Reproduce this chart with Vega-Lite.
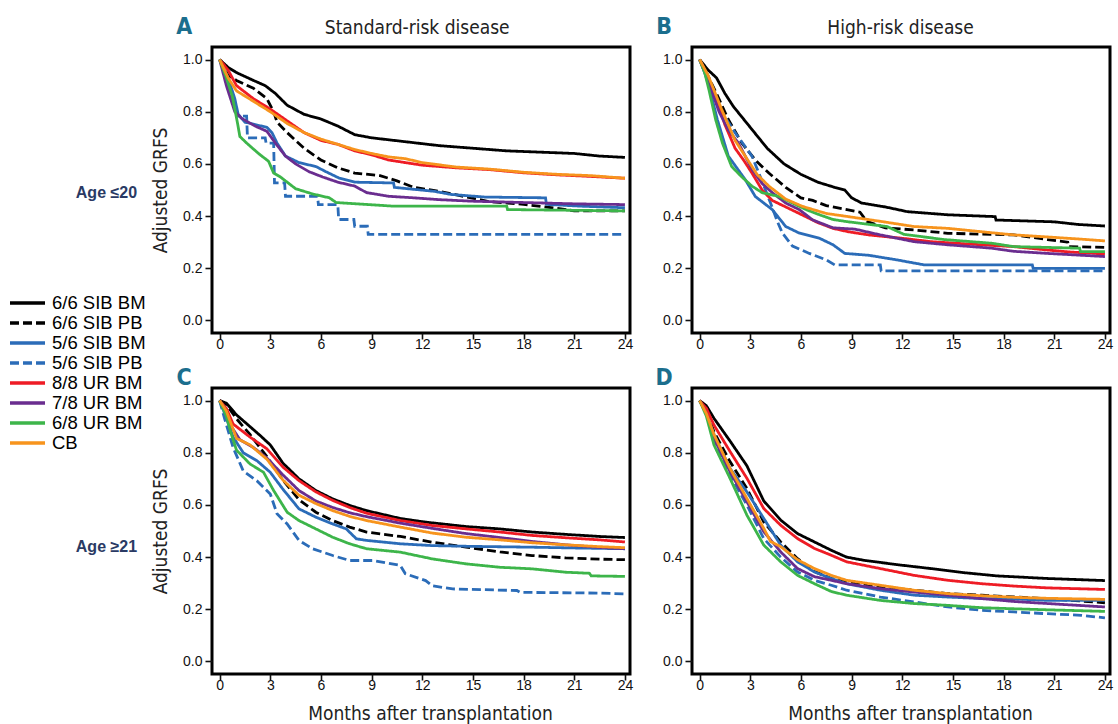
{
"$schema":"https://vega.github.io/schema/vega-lite/v6.json",
"background":"white",
"padding":{"left":8,"top":14,"right":2,"bottom":0},
"columns":2,
"bounds":"flush",
"spacing":{"row":55,"column":62},
"datasets":{
"panels":[{"panel":"A","letter":"A","age":"Age ≤20","header":"Standard-risk disease"},{"panel":"B","letter":"B","age":"","header":"High-risk disease"},{"panel":"C","letter":"C","age":"Age ≥21","header":""},{"panel":"D","letter":"D","age":"","header":""}],
"curves":[
{"panel":"A","group":"6/6 SIB BM","month":0,"grfs":1},{"panel":"A","group":"6/6 SIB BM","month":0.5,"grfs":0.97},{"panel":"A","group":"6/6 SIB BM","month":1,"grfs":0.95},{"panel":"A","group":"6/6 SIB BM","month":2,"grfs":0.92},{"panel":"A","group":"6/6 SIB BM","month":2.7,"grfs":0.9},{"panel":"A","group":"6/6 SIB BM","month":3.3,"grfs":0.87},{"panel":"A","group":"6/6 SIB BM","month":4,"grfs":0.825},{"panel":"A","group":"6/6 SIB BM","month":5,"grfs":0.79},{"panel":"A","group":"6/6 SIB BM","month":6,"grfs":0.772},{"panel":"A","group":"6/6 SIB BM","month":7,"grfs":0.745},{"panel":"A","group":"6/6 SIB BM","month":8,"grfs":0.712},{"panel":"A","group":"6/6 SIB BM","month":9,"grfs":0.7},{"panel":"A","group":"6/6 SIB BM","month":11,"grfs":0.685},{"panel":"A","group":"6/6 SIB BM","month":13,"grfs":0.67},{"panel":"A","group":"6/6 SIB BM","month":15,"grfs":0.66},{"panel":"A","group":"6/6 SIB BM","month":17,"grfs":0.65},{"panel":"A","group":"6/6 SIB BM","month":19,"grfs":0.645},{"panel":"A","group":"6/6 SIB BM","month":21,"grfs":0.64},{"panel":"A","group":"6/6 SIB BM","month":22.5,"grfs":0.63},{"panel":"A","group":"6/6 SIB BM","month":24,"grfs":0.625},
{"panel":"A","group":"6/6 SIB PB","month":0,"grfs":1},{"panel":"A","group":"6/6 SIB PB","month":0.5,"grfs":0.94},{"panel":"A","group":"6/6 SIB PB","month":1,"grfs":0.92},{"panel":"A","group":"6/6 SIB PB","month":2,"grfs":0.89},{"panel":"A","group":"6/6 SIB PB","month":2.8,"grfs":0.85},{"panel":"A","group":"6/6 SIB PB","month":3.2,"grfs":0.8},{"panel":"A","group":"6/6 SIB PB","month":3.4,"grfs":0.76},{"panel":"A","group":"6/6 SIB PB","month":4,"grfs":0.72},{"panel":"A","group":"6/6 SIB PB","month":5,"grfs":0.66},{"panel":"A","group":"6/6 SIB PB","month":6,"grfs":0.615},{"panel":"A","group":"6/6 SIB PB","month":7,"grfs":0.585},{"panel":"A","group":"6/6 SIB PB","month":8,"grfs":0.565},{"panel":"A","group":"6/6 SIB PB","month":9.5,"grfs":0.555},{"panel":"A","group":"6/6 SIB PB","month":10.5,"grfs":0.535},{"panel":"A","group":"6/6 SIB PB","month":11.5,"grfs":0.51},{"panel":"A","group":"6/6 SIB PB","month":13,"grfs":0.495},{"panel":"A","group":"6/6 SIB PB","month":14.5,"grfs":0.475},{"panel":"A","group":"6/6 SIB PB","month":16,"grfs":0.455},{"panel":"A","group":"6/6 SIB PB","month":18,"grfs":0.445},{"panel":"A","group":"6/6 SIB PB","month":20,"grfs":0.43},{"panel":"A","group":"6/6 SIB PB","month":21,"grfs":0.42},{"panel":"A","group":"6/6 SIB PB","month":24,"grfs":0.42},
{"panel":"A","group":"5/6 SIB BM","month":0,"grfs":1},{"panel":"A","group":"5/6 SIB BM","month":0.5,"grfs":0.93},{"panel":"A","group":"5/6 SIB BM","month":0.9,"grfs":0.85},{"panel":"A","group":"5/6 SIB BM","month":1.1,"grfs":0.79},{"panel":"A","group":"5/6 SIB BM","month":1.5,"grfs":0.76},{"panel":"A","group":"5/6 SIB BM","month":2.8,"grfs":0.74},{"panel":"A","group":"5/6 SIB BM","month":3.1,"grfs":0.72},{"panel":"A","group":"5/6 SIB BM","month":3.4,"grfs":0.68},{"panel":"A","group":"5/6 SIB BM","month":3.9,"grfs":0.63},{"panel":"A","group":"5/6 SIB BM","month":4.7,"grfs":0.605},{"panel":"A","group":"5/6 SIB BM","month":5.7,"grfs":0.59},{"panel":"A","group":"5/6 SIB BM","month":6.3,"grfs":0.57},{"panel":"A","group":"5/6 SIB BM","month":7.1,"grfs":0.545},{"panel":"A","group":"5/6 SIB BM","month":8,"grfs":0.53},{"panel":"A","group":"5/6 SIB BM","month":10.3,"grfs":0.527},{"panel":"A","group":"5/6 SIB BM","month":10.35,"grfs":0.51},{"panel":"A","group":"5/6 SIB BM","month":12.7,"grfs":0.495},{"panel":"A","group":"5/6 SIB BM","month":13.7,"grfs":0.483},{"panel":"A","group":"5/6 SIB BM","month":15.7,"grfs":0.473},{"panel":"A","group":"5/6 SIB BM","month":19.3,"grfs":0.47},{"panel":"A","group":"5/6 SIB BM","month":19.35,"grfs":0.445},{"panel":"A","group":"5/6 SIB BM","month":21.4,"grfs":0.438},{"panel":"A","group":"5/6 SIB BM","month":24,"grfs":0.432},
{"panel":"A","group":"5/6 SIB PB","month":0,"grfs":1},{"panel":"A","group":"5/6 SIB PB","month":0.3,"grfs":0.95},{"panel":"A","group":"5/6 SIB PB","month":0.6,"grfs":0.88},{"panel":"A","group":"5/6 SIB PB","month":1,"grfs":0.8},{"panel":"A","group":"5/6 SIB PB","month":1.05,"grfs":0.783},{"panel":"A","group":"5/6 SIB PB","month":1.6,"grfs":0.783},{"panel":"A","group":"5/6 SIB PB","month":1.65,"grfs":0.7},{"panel":"A","group":"5/6 SIB PB","month":2.7,"grfs":0.7},{"panel":"A","group":"5/6 SIB PB","month":2.75,"grfs":0.68},{"panel":"A","group":"5/6 SIB PB","month":3.2,"grfs":0.68},{"panel":"A","group":"5/6 SIB PB","month":3.25,"grfs":0.527},{"panel":"A","group":"5/6 SIB PB","month":3.85,"grfs":0.527},{"panel":"A","group":"5/6 SIB PB","month":3.9,"grfs":0.476},{"panel":"A","group":"5/6 SIB PB","month":5.8,"grfs":0.476},{"panel":"A","group":"5/6 SIB PB","month":5.85,"grfs":0.444},{"panel":"A","group":"5/6 SIB PB","month":7,"grfs":0.444},{"panel":"A","group":"5/6 SIB PB","month":7.05,"grfs":0.387},{"panel":"A","group":"5/6 SIB PB","month":7.95,"grfs":0.387},{"panel":"A","group":"5/6 SIB PB","month":8,"grfs":0.361},{"panel":"A","group":"5/6 SIB PB","month":8.75,"grfs":0.361},{"panel":"A","group":"5/6 SIB PB","month":8.8,"grfs":0.33},{"panel":"A","group":"5/6 SIB PB","month":24,"grfs":0.33},
{"panel":"A","group":"8/8 UR BM","month":0,"grfs":1},{"panel":"A","group":"8/8 UR BM","month":0.5,"grfs":0.96},{"panel":"A","group":"8/8 UR BM","month":1,"grfs":0.9},{"panel":"A","group":"8/8 UR BM","month":2,"grfs":0.85},{"panel":"A","group":"8/8 UR BM","month":3,"grfs":0.81},{"panel":"A","group":"8/8 UR BM","month":4,"grfs":0.765},{"panel":"A","group":"8/8 UR BM","month":5,"grfs":0.72},{"panel":"A","group":"8/8 UR BM","month":6,"grfs":0.69},{"panel":"A","group":"8/8 UR BM","month":7,"grfs":0.675},{"panel":"A","group":"8/8 UR BM","month":8,"grfs":0.65},{"panel":"A","group":"8/8 UR BM","month":9,"grfs":0.635},{"panel":"A","group":"8/8 UR BM","month":10,"grfs":0.615},{"panel":"A","group":"8/8 UR BM","month":11,"grfs":0.605},{"panel":"A","group":"8/8 UR BM","month":12,"grfs":0.595},{"panel":"A","group":"8/8 UR BM","month":14,"grfs":0.585},{"panel":"A","group":"8/8 UR BM","month":16,"grfs":0.578},{"panel":"A","group":"8/8 UR BM","month":18,"grfs":0.566},{"panel":"A","group":"8/8 UR BM","month":20,"grfs":0.558},{"panel":"A","group":"8/8 UR BM","month":22,"grfs":0.552},{"panel":"A","group":"8/8 UR BM","month":24,"grfs":0.545},
{"panel":"A","group":"7/8 UR BM","month":0,"grfs":1},{"panel":"A","group":"7/8 UR BM","month":0.4,"grfs":0.9},{"panel":"A","group":"7/8 UR BM","month":0.9,"grfs":0.8},{"panel":"A","group":"7/8 UR BM","month":1.3,"grfs":0.775},{"panel":"A","group":"7/8 UR BM","month":2.1,"grfs":0.745},{"panel":"A","group":"7/8 UR BM","month":2.8,"grfs":0.725},{"panel":"A","group":"7/8 UR BM","month":3.3,"grfs":0.68},{"panel":"A","group":"7/8 UR BM","month":3.9,"grfs":0.63},{"panel":"A","group":"7/8 UR BM","month":4.5,"grfs":0.6},{"panel":"A","group":"7/8 UR BM","month":5.3,"grfs":0.57},{"panel":"A","group":"7/8 UR BM","month":6.1,"grfs":0.55},{"panel":"A","group":"7/8 UR BM","month":7,"grfs":0.53},{"panel":"A","group":"7/8 UR BM","month":8,"grfs":0.515},{"panel":"A","group":"7/8 UR BM","month":8.7,"grfs":0.49},{"panel":"A","group":"7/8 UR BM","month":10,"grfs":0.476},{"panel":"A","group":"7/8 UR BM","month":11.5,"grfs":0.47},{"panel":"A","group":"7/8 UR BM","month":13,"grfs":0.463},{"panel":"A","group":"7/8 UR BM","month":15,"grfs":0.457},{"panel":"A","group":"7/8 UR BM","month":18,"grfs":0.452},{"panel":"A","group":"7/8 UR BM","month":21,"grfs":0.447},{"panel":"A","group":"7/8 UR BM","month":24,"grfs":0.444},
{"panel":"A","group":"6/8 UR BM","month":0,"grfs":1},{"panel":"A","group":"6/8 UR BM","month":0.4,"grfs":0.93},{"panel":"A","group":"6/8 UR BM","month":0.75,"grfs":0.86},{"panel":"A","group":"6/8 UR BM","month":1.05,"grfs":0.76},{"panel":"A","group":"6/8 UR BM","month":1.2,"grfs":0.705},{"panel":"A","group":"6/8 UR BM","month":1.6,"grfs":0.68},{"panel":"A","group":"6/8 UR BM","month":2.3,"grfs":0.64},{"panel":"A","group":"6/8 UR BM","month":2.9,"grfs":0.61},{"panel":"A","group":"6/8 UR BM","month":3.2,"grfs":0.565},{"panel":"A","group":"6/8 UR BM","month":3.6,"grfs":0.55},{"panel":"A","group":"6/8 UR BM","month":4.5,"grfs":0.505},{"panel":"A","group":"6/8 UR BM","month":5.5,"grfs":0.485},{"panel":"A","group":"6/8 UR BM","month":6.5,"grfs":0.47},{"panel":"A","group":"6/8 UR BM","month":6.9,"grfs":0.452},{"panel":"A","group":"6/8 UR BM","month":10.3,"grfs":0.438},{"panel":"A","group":"6/8 UR BM","month":17,"grfs":0.438},{"panel":"A","group":"6/8 UR BM","month":17.05,"grfs":0.425},{"panel":"A","group":"6/8 UR BM","month":24,"grfs":0.42},
{"panel":"A","group":"CB","month":0,"grfs":1},{"panel":"A","group":"CB","month":0.5,"grfs":0.93},{"panel":"A","group":"CB","month":1,"grfs":0.88},{"panel":"A","group":"CB","month":2,"grfs":0.84},{"panel":"A","group":"CB","month":3,"grfs":0.8},{"panel":"A","group":"CB","month":4,"grfs":0.755},{"panel":"A","group":"CB","month":5,"grfs":0.72},{"panel":"A","group":"CB","month":6,"grfs":0.695},{"panel":"A","group":"CB","month":7,"grfs":0.675},{"panel":"A","group":"CB","month":8,"grfs":0.655},{"panel":"A","group":"CB","month":9,"grfs":0.64},{"panel":"A","group":"CB","month":10,"grfs":0.627},{"panel":"A","group":"CB","month":11,"grfs":0.62},{"panel":"A","group":"CB","month":12,"grfs":0.605},{"panel":"A","group":"CB","month":14,"grfs":0.588},{"panel":"A","group":"CB","month":16,"grfs":0.58},{"panel":"A","group":"CB","month":18,"grfs":0.568},{"panel":"A","group":"CB","month":20,"grfs":0.56},{"panel":"A","group":"CB","month":22,"grfs":0.555},{"panel":"A","group":"CB","month":24,"grfs":0.545},
{"panel":"B","group":"6/6 SIB BM","month":0,"grfs":1},{"panel":"B","group":"6/6 SIB BM","month":0.5,"grfs":0.96},{"panel":"B","group":"6/6 SIB BM","month":1,"grfs":0.93},{"panel":"B","group":"6/6 SIB BM","month":1.5,"grfs":0.87},{"panel":"B","group":"6/6 SIB BM","month":2,"grfs":0.82},{"panel":"B","group":"6/6 SIB BM","month":3,"grfs":0.74},{"panel":"B","group":"6/6 SIB BM","month":4,"grfs":0.66},{"panel":"B","group":"6/6 SIB BM","month":5,"grfs":0.6},{"panel":"B","group":"6/6 SIB BM","month":6,"grfs":0.56},{"panel":"B","group":"6/6 SIB BM","month":7,"grfs":0.53},{"panel":"B","group":"6/6 SIB BM","month":8,"grfs":0.51},{"panel":"B","group":"6/6 SIB BM","month":8.6,"grfs":0.5},{"panel":"B","group":"6/6 SIB BM","month":9,"grfs":0.47},{"panel":"B","group":"6/6 SIB BM","month":9.6,"grfs":0.45},{"panel":"B","group":"6/6 SIB BM","month":11,"grfs":0.435},{"panel":"B","group":"6/6 SIB BM","month":12.3,"grfs":0.417},{"panel":"B","group":"6/6 SIB BM","month":14.7,"grfs":0.405},{"panel":"B","group":"6/6 SIB BM","month":17.5,"grfs":0.398},{"panel":"B","group":"6/6 SIB BM","month":17.55,"grfs":0.385},{"panel":"B","group":"6/6 SIB BM","month":21,"grfs":0.378},{"panel":"B","group":"6/6 SIB BM","month":22.4,"grfs":0.368},{"panel":"B","group":"6/6 SIB BM","month":24,"grfs":0.362},
{"panel":"B","group":"6/6 SIB PB","month":0,"grfs":1},{"panel":"B","group":"6/6 SIB PB","month":0.4,"grfs":0.95},{"panel":"B","group":"6/6 SIB PB","month":1,"grfs":0.87},{"panel":"B","group":"6/6 SIB PB","month":1.7,"grfs":0.77},{"panel":"B","group":"6/6 SIB PB","month":2.5,"grfs":0.68},{"panel":"B","group":"6/6 SIB PB","month":3.3,"grfs":0.615},{"panel":"B","group":"6/6 SIB PB","month":4.1,"grfs":0.565},{"panel":"B","group":"6/6 SIB PB","month":5.1,"grfs":0.51},{"panel":"B","group":"6/6 SIB PB","month":6,"grfs":0.47},{"panel":"B","group":"6/6 SIB PB","month":6.7,"grfs":0.46},{"panel":"B","group":"6/6 SIB PB","month":7.5,"grfs":0.44},{"panel":"B","group":"6/6 SIB PB","month":9.5,"grfs":0.415},{"panel":"B","group":"6/6 SIB PB","month":9.9,"grfs":0.38},{"panel":"B","group":"6/6 SIB PB","month":11,"grfs":0.355},{"panel":"B","group":"6/6 SIB PB","month":12.7,"grfs":0.347},{"panel":"B","group":"6/6 SIB PB","month":14.7,"grfs":0.334},{"panel":"B","group":"6/6 SIB PB","month":18.6,"grfs":0.328},{"panel":"B","group":"6/6 SIB PB","month":20.6,"grfs":0.31},{"panel":"B","group":"6/6 SIB PB","month":21.8,"grfs":0.3},{"panel":"B","group":"6/6 SIB PB","month":21.85,"grfs":0.283},{"panel":"B","group":"6/6 SIB PB","month":24,"grfs":0.28},
{"panel":"B","group":"5/6 SIB BM","month":0,"grfs":1},{"panel":"B","group":"5/6 SIB BM","month":0.3,"grfs":0.95},{"panel":"B","group":"5/6 SIB BM","month":0.55,"grfs":0.9},{"panel":"B","group":"5/6 SIB BM","month":1.05,"grfs":0.77},{"panel":"B","group":"5/6 SIB BM","month":1.7,"grfs":0.63},{"panel":"B","group":"5/6 SIB BM","month":2.7,"grfs":0.54},{"panel":"B","group":"5/6 SIB BM","month":3.3,"grfs":0.475},{"panel":"B","group":"5/6 SIB BM","month":4.3,"grfs":0.425},{"panel":"B","group":"5/6 SIB BM","month":5.1,"grfs":0.36},{"panel":"B","group":"5/6 SIB BM","month":5.9,"grfs":0.335},{"panel":"B","group":"5/6 SIB BM","month":7.1,"grfs":0.315},{"panel":"B","group":"5/6 SIB BM","month":7.9,"grfs":0.29},{"panel":"B","group":"5/6 SIB BM","month":8.6,"grfs":0.257},{"panel":"B","group":"5/6 SIB BM","month":10,"grfs":0.25},{"panel":"B","group":"5/6 SIB BM","month":11.7,"grfs":0.232},{"panel":"B","group":"5/6 SIB BM","month":13.3,"grfs":0.213},{"panel":"B","group":"5/6 SIB BM","month":19.7,"grfs":0.213},{"panel":"B","group":"5/6 SIB BM","month":19.75,"grfs":0.2},{"panel":"B","group":"5/6 SIB BM","month":24,"grfs":0.2},
{"panel":"B","group":"5/6 SIB PB","month":0,"grfs":1},{"panel":"B","group":"5/6 SIB PB","month":0.5,"grfs":0.93},{"panel":"B","group":"5/6 SIB PB","month":1.3,"grfs":0.8},{"panel":"B","group":"5/6 SIB PB","month":2.1,"grfs":0.72},{"panel":"B","group":"5/6 SIB PB","month":3.1,"grfs":0.63},{"panel":"B","group":"5/6 SIB PB","month":3.6,"grfs":0.55},{"panel":"B","group":"5/6 SIB PB","month":4.2,"grfs":0.45},{"panel":"B","group":"5/6 SIB PB","month":4.6,"grfs":0.38},{"panel":"B","group":"5/6 SIB PB","month":4.9,"grfs":0.335},{"panel":"B","group":"5/6 SIB PB","month":5.5,"grfs":0.285},{"panel":"B","group":"5/6 SIB PB","month":6.5,"grfs":0.257},{"panel":"B","group":"5/6 SIB PB","month":7.5,"grfs":0.232},{"panel":"B","group":"5/6 SIB PB","month":8,"grfs":0.213},{"panel":"B","group":"5/6 SIB PB","month":10.7,"grfs":0.213},{"panel":"B","group":"5/6 SIB PB","month":10.75,"grfs":0.19},{"panel":"B","group":"5/6 SIB PB","month":24,"grfs":0.19},
{"panel":"B","group":"8/8 UR BM","month":0,"grfs":1},{"panel":"B","group":"8/8 UR BM","month":0.5,"grfs":0.93},{"panel":"B","group":"8/8 UR BM","month":1,"grfs":0.85},{"panel":"B","group":"8/8 UR BM","month":1.5,"grfs":0.75},{"panel":"B","group":"8/8 UR BM","month":2.1,"grfs":0.66},{"panel":"B","group":"8/8 UR BM","month":2.6,"grfs":0.615},{"panel":"B","group":"8/8 UR BM","month":3.1,"grfs":0.565},{"panel":"B","group":"8/8 UR BM","month":3.7,"grfs":0.5},{"panel":"B","group":"8/8 UR BM","month":4.3,"grfs":0.46},{"panel":"B","group":"8/8 UR BM","month":5.1,"grfs":0.435},{"panel":"B","group":"8/8 UR BM","month":5.9,"grfs":0.41},{"panel":"B","group":"8/8 UR BM","month":7,"grfs":0.375},{"panel":"B","group":"8/8 UR BM","month":7.9,"grfs":0.353},{"panel":"B","group":"8/8 UR BM","month":8.8,"grfs":0.34},{"panel":"B","group":"8/8 UR BM","month":10,"grfs":0.328},{"panel":"B","group":"8/8 UR BM","month":12,"grfs":0.315},{"panel":"B","group":"8/8 UR BM","month":13.7,"grfs":0.302},{"panel":"B","group":"8/8 UR BM","month":16.7,"grfs":0.29},{"panel":"B","group":"8/8 UR BM","month":18.6,"grfs":0.283},{"panel":"B","group":"8/8 UR BM","month":20.6,"grfs":0.27},{"panel":"B","group":"8/8 UR BM","month":22,"grfs":0.262},{"panel":"B","group":"8/8 UR BM","month":24,"grfs":0.255},
{"panel":"B","group":"7/8 UR BM","month":0,"grfs":1},{"panel":"B","group":"7/8 UR BM","month":0.5,"grfs":0.92},{"panel":"B","group":"7/8 UR BM","month":1.15,"grfs":0.8},{"panel":"B","group":"7/8 UR BM","month":1.7,"grfs":0.73},{"panel":"B","group":"7/8 UR BM","month":2.3,"grfs":0.68},{"panel":"B","group":"7/8 UR BM","month":3.1,"grfs":0.58},{"panel":"B","group":"7/8 UR BM","month":3.7,"grfs":0.525},{"panel":"B","group":"7/8 UR BM","month":4.3,"grfs":0.49},{"panel":"B","group":"7/8 UR BM","month":5.1,"grfs":0.45},{"panel":"B","group":"7/8 UR BM","month":5.9,"grfs":0.425},{"panel":"B","group":"7/8 UR BM","month":6.7,"grfs":0.385},{"panel":"B","group":"7/8 UR BM","month":7.9,"grfs":0.355},{"panel":"B","group":"7/8 UR BM","month":9.2,"grfs":0.35},{"panel":"B","group":"7/8 UR BM","month":10.7,"grfs":0.328},{"panel":"B","group":"7/8 UR BM","month":12.7,"grfs":0.302},{"panel":"B","group":"7/8 UR BM","month":14.7,"grfs":0.29},{"panel":"B","group":"7/8 UR BM","month":17.3,"grfs":0.277},{"panel":"B","group":"7/8 UR BM","month":18.6,"grfs":0.265},{"panel":"B","group":"7/8 UR BM","month":20.6,"grfs":0.257},{"panel":"B","group":"7/8 UR BM","month":24,"grfs":0.245},
{"panel":"B","group":"6/8 UR BM","month":0,"grfs":1},{"panel":"B","group":"6/8 UR BM","month":0.3,"grfs":0.95},{"panel":"B","group":"6/8 UR BM","month":0.55,"grfs":0.885},{"panel":"B","group":"6/8 UR BM","month":0.95,"grfs":0.77},{"panel":"B","group":"6/8 UR BM","month":1.35,"grfs":0.68},{"panel":"B","group":"6/8 UR BM","month":1.9,"grfs":0.59},{"panel":"B","group":"6/8 UR BM","month":2.5,"grfs":0.55},{"panel":"B","group":"6/8 UR BM","month":3.1,"grfs":0.515},{"panel":"B","group":"6/8 UR BM","month":3.7,"grfs":0.49},{"panel":"B","group":"6/8 UR BM","month":4.7,"grfs":0.475},{"panel":"B","group":"6/8 UR BM","month":5.5,"grfs":0.45},{"panel":"B","group":"6/8 UR BM","month":6.3,"grfs":0.425},{"panel":"B","group":"6/8 UR BM","month":7.1,"grfs":0.405},{"panel":"B","group":"6/8 UR BM","month":7.9,"grfs":0.387},{"panel":"B","group":"6/8 UR BM","month":8.8,"grfs":0.378},{"panel":"B","group":"6/8 UR BM","month":11.1,"grfs":0.36},{"panel":"B","group":"6/8 UR BM","month":12.1,"grfs":0.33},{"panel":"B","group":"6/8 UR BM","month":14.5,"grfs":0.31},{"panel":"B","group":"6/8 UR BM","month":17.3,"grfs":0.296},{"panel":"B","group":"6/8 UR BM","month":18.6,"grfs":0.283},{"panel":"B","group":"6/8 UR BM","month":22.5,"grfs":0.277},{"panel":"B","group":"6/8 UR BM","month":22.55,"grfs":0.264},{"panel":"B","group":"6/8 UR BM","month":24,"grfs":0.264},
{"panel":"B","group":"CB","month":0,"grfs":1},{"panel":"B","group":"CB","month":0.5,"grfs":0.94},{"panel":"B","group":"CB","month":1.3,"grfs":0.81},{"panel":"B","group":"CB","month":2.1,"grfs":0.69},{"panel":"B","group":"CB","month":2.8,"grfs":0.62},{"panel":"B","group":"CB","month":3.4,"grfs":0.56},{"panel":"B","group":"CB","month":4.1,"grfs":0.515},{"panel":"B","group":"CB","month":5.1,"grfs":0.465},{"panel":"B","group":"CB","month":6.1,"grfs":0.437},{"panel":"B","group":"CB","month":7.5,"grfs":0.41},{"panel":"B","group":"CB","month":8.8,"grfs":0.398},{"panel":"B","group":"CB","month":10.7,"grfs":0.38},{"panel":"B","group":"CB","month":12.7,"grfs":0.36},{"panel":"B","group":"CB","month":14.7,"grfs":0.353},{"panel":"B","group":"CB","month":16.7,"grfs":0.34},{"panel":"B","group":"CB","month":18.6,"grfs":0.328},{"panel":"B","group":"CB","month":20.6,"grfs":0.32},{"panel":"B","group":"CB","month":22.5,"grfs":0.312},{"panel":"B","group":"CB","month":24,"grfs":0.305},
{"panel":"C","group":"6/6 SIB BM","month":0,"grfs":1},{"panel":"C","group":"6/6 SIB BM","month":0.4,"grfs":0.99},{"panel":"C","group":"6/6 SIB BM","month":1,"grfs":0.945},{"panel":"C","group":"6/6 SIB BM","month":1.8,"grfs":0.9},{"panel":"C","group":"6/6 SIB BM","month":2.4,"grfs":0.866},{"panel":"C","group":"6/6 SIB BM","month":3,"grfs":0.83},{"panel":"C","group":"6/6 SIB BM","month":3.75,"grfs":0.76},{"panel":"C","group":"6/6 SIB BM","month":4.7,"grfs":0.7},{"panel":"C","group":"6/6 SIB BM","month":5.7,"grfs":0.655},{"panel":"C","group":"6/6 SIB BM","month":6.7,"grfs":0.623},{"panel":"C","group":"6/6 SIB BM","month":7.7,"grfs":0.598},{"panel":"C","group":"6/6 SIB BM","month":8.7,"grfs":0.578},{"panel":"C","group":"6/6 SIB BM","month":9.7,"grfs":0.563},{"panel":"C","group":"6/6 SIB BM","month":10.7,"grfs":0.548},{"panel":"C","group":"6/6 SIB BM","month":12.2,"grfs":0.534},{"panel":"C","group":"6/6 SIB BM","month":14.6,"grfs":0.517},{"panel":"C","group":"6/6 SIB BM","month":16.6,"grfs":0.508},{"panel":"C","group":"6/6 SIB BM","month":18.5,"grfs":0.496},{"panel":"C","group":"6/6 SIB BM","month":20.5,"grfs":0.487},{"panel":"C","group":"6/6 SIB BM","month":22.5,"grfs":0.479},{"panel":"C","group":"6/6 SIB BM","month":24,"grfs":0.475},
{"panel":"C","group":"6/6 SIB PB","month":0,"grfs":1},{"panel":"C","group":"6/6 SIB PB","month":0.4,"grfs":0.985},{"panel":"C","group":"6/6 SIB PB","month":1,"grfs":0.93},{"panel":"C","group":"6/6 SIB PB","month":1.8,"grfs":0.87},{"panel":"C","group":"6/6 SIB PB","month":2.8,"grfs":0.785},{"panel":"C","group":"6/6 SIB PB","month":3.75,"grfs":0.695},{"panel":"C","group":"6/6 SIB PB","month":4.7,"grfs":0.62},{"panel":"C","group":"6/6 SIB PB","month":5.7,"grfs":0.572},{"panel":"C","group":"6/6 SIB PB","month":6.7,"grfs":0.54},{"panel":"C","group":"6/6 SIB PB","month":7.7,"grfs":0.515},{"panel":"C","group":"6/6 SIB PB","month":8.7,"grfs":0.496},{"panel":"C","group":"6/6 SIB PB","month":10.7,"grfs":0.479},{"panel":"C","group":"6/6 SIB PB","month":12.6,"grfs":0.457},{"panel":"C","group":"6/6 SIB PB","month":14.6,"grfs":0.438},{"panel":"C","group":"6/6 SIB PB","month":16.6,"grfs":0.42},{"panel":"C","group":"6/6 SIB PB","month":18.5,"grfs":0.406},{"panel":"C","group":"6/6 SIB PB","month":20.5,"grfs":0.397},{"panel":"C","group":"6/6 SIB PB","month":22.5,"grfs":0.392},{"panel":"C","group":"6/6 SIB PB","month":24,"grfs":0.39},
{"panel":"C","group":"5/6 SIB BM","month":0,"grfs":1},{"panel":"C","group":"5/6 SIB BM","month":0.3,"grfs":0.95},{"panel":"C","group":"5/6 SIB BM","month":0.8,"grfs":0.86},{"panel":"C","group":"5/6 SIB BM","month":1.4,"grfs":0.8},{"panel":"C","group":"5/6 SIB BM","month":2.2,"grfs":0.77},{"panel":"C","group":"5/6 SIB BM","month":3,"grfs":0.725},{"panel":"C","group":"5/6 SIB BM","month":3.75,"grfs":0.66},{"panel":"C","group":"5/6 SIB BM","month":4.7,"grfs":0.585},{"panel":"C","group":"5/6 SIB BM","month":5.7,"grfs":0.553},{"panel":"C","group":"5/6 SIB BM","month":6.7,"grfs":0.527},{"panel":"C","group":"5/6 SIB BM","month":7.5,"grfs":0.508},{"panel":"C","group":"5/6 SIB BM","month":8.1,"grfs":0.47},{"panel":"C","group":"5/6 SIB BM","month":8.7,"grfs":0.464},{"panel":"C","group":"5/6 SIB BM","month":10.7,"grfs":0.451},{"panel":"C","group":"5/6 SIB BM","month":12.6,"grfs":0.444},{"panel":"C","group":"5/6 SIB BM","month":15,"grfs":0.441},{"panel":"C","group":"5/6 SIB BM","month":18.5,"grfs":0.438},{"panel":"C","group":"5/6 SIB BM","month":21,"grfs":0.435},{"panel":"C","group":"5/6 SIB BM","month":24,"grfs":0.432},
{"panel":"C","group":"5/6 SIB PB","month":0,"grfs":1},{"panel":"C","group":"5/6 SIB PB","month":0.3,"grfs":0.93},{"panel":"C","group":"5/6 SIB PB","month":0.8,"grfs":0.82},{"panel":"C","group":"5/6 SIB PB","month":1.4,"grfs":0.73},{"panel":"C","group":"5/6 SIB PB","month":2.2,"grfs":0.693},{"panel":"C","group":"5/6 SIB PB","month":3,"grfs":0.642},{"panel":"C","group":"5/6 SIB PB","month":3.4,"grfs":0.566},{"panel":"C","group":"5/6 SIB PB","month":4,"grfs":0.527},{"panel":"C","group":"5/6 SIB PB","month":4.7,"grfs":0.464},{"panel":"C","group":"5/6 SIB PB","month":5.5,"grfs":0.432},{"panel":"C","group":"5/6 SIB PB","month":6.7,"grfs":0.406},{"panel":"C","group":"5/6 SIB PB","month":7.7,"grfs":0.387},{"panel":"C","group":"5/6 SIB PB","month":9.1,"grfs":0.387},{"panel":"C","group":"5/6 SIB PB","month":10.7,"grfs":0.368},{"panel":"C","group":"5/6 SIB PB","month":11,"grfs":0.336},{"panel":"C","group":"5/6 SIB PB","month":12.2,"grfs":0.31},{"panel":"C","group":"5/6 SIB PB","month":12.6,"grfs":0.29},{"panel":"C","group":"5/6 SIB PB","month":13.8,"grfs":0.278},{"panel":"C","group":"5/6 SIB PB","month":17.6,"grfs":0.272},{"panel":"C","group":"5/6 SIB PB","month":17.8,"grfs":0.265},{"panel":"C","group":"5/6 SIB PB","month":22.5,"grfs":0.262},{"panel":"C","group":"5/6 SIB PB","month":24,"grfs":0.259},
{"panel":"C","group":"8/8 UR BM","month":0,"grfs":1},{"panel":"C","group":"8/8 UR BM","month":0.4,"grfs":0.97},{"panel":"C","group":"8/8 UR BM","month":0.8,"grfs":0.91},{"panel":"C","group":"8/8 UR BM","month":1.8,"grfs":0.86},{"panel":"C","group":"8/8 UR BM","month":2.8,"grfs":0.815},{"panel":"C","group":"8/8 UR BM","month":3.75,"grfs":0.745},{"panel":"C","group":"8/8 UR BM","month":4.7,"grfs":0.693},{"panel":"C","group":"8/8 UR BM","month":5.7,"grfs":0.65},{"panel":"C","group":"8/8 UR BM","month":6.7,"grfs":0.617},{"panel":"C","group":"8/8 UR BM","month":7.7,"grfs":0.59},{"panel":"C","group":"8/8 UR BM","month":8.7,"grfs":0.568},{"panel":"C","group":"8/8 UR BM","month":10.7,"grfs":0.54},{"panel":"C","group":"8/8 UR BM","month":12.6,"grfs":0.521},{"panel":"C","group":"8/8 UR BM","month":14.6,"grfs":0.508},{"panel":"C","group":"8/8 UR BM","month":16.6,"grfs":0.496},{"panel":"C","group":"8/8 UR BM","month":18.5,"grfs":0.483},{"panel":"C","group":"8/8 UR BM","month":20.5,"grfs":0.474},{"panel":"C","group":"8/8 UR BM","month":22.5,"grfs":0.466},{"panel":"C","group":"8/8 UR BM","month":24,"grfs":0.458},
{"panel":"C","group":"7/8 UR BM","month":0,"grfs":1},{"panel":"C","group":"7/8 UR BM","month":0.3,"grfs":0.97},{"panel":"C","group":"7/8 UR BM","month":0.7,"grfs":0.9},{"panel":"C","group":"7/8 UR BM","month":1.2,"grfs":0.85},{"panel":"C","group":"7/8 UR BM","month":2,"grfs":0.82},{"panel":"C","group":"7/8 UR BM","month":2.8,"grfs":0.78},{"panel":"C","group":"7/8 UR BM","month":3.75,"grfs":0.715},{"panel":"C","group":"7/8 UR BM","month":4.7,"grfs":0.655},{"panel":"C","group":"7/8 UR BM","month":5.7,"grfs":0.615},{"panel":"C","group":"7/8 UR BM","month":6.7,"grfs":0.59},{"panel":"C","group":"7/8 UR BM","month":7.7,"grfs":0.57},{"panel":"C","group":"7/8 UR BM","month":8.7,"grfs":0.555},{"panel":"C","group":"7/8 UR BM","month":10.7,"grfs":0.53},{"panel":"C","group":"7/8 UR BM","month":12.6,"grfs":0.51},{"panel":"C","group":"7/8 UR BM","month":14.6,"grfs":0.49},{"panel":"C","group":"7/8 UR BM","month":16.6,"grfs":0.475},{"panel":"C","group":"7/8 UR BM","month":18.5,"grfs":0.46},{"panel":"C","group":"7/8 UR BM","month":20.5,"grfs":0.447},{"panel":"C","group":"7/8 UR BM","month":22.5,"grfs":0.437},{"panel":"C","group":"7/8 UR BM","month":24,"grfs":0.432},
{"panel":"C","group":"6/8 UR BM","month":0,"grfs":1},{"panel":"C","group":"6/8 UR BM","month":0.4,"grfs":0.94},{"panel":"C","group":"6/8 UR BM","month":0.7,"grfs":0.87},{"panel":"C","group":"6/8 UR BM","month":1,"grfs":0.81},{"panel":"C","group":"6/8 UR BM","month":1.8,"grfs":0.757},{"panel":"C","group":"6/8 UR BM","month":2.6,"grfs":0.725},{"panel":"C","group":"6/8 UR BM","month":3.2,"grfs":0.655},{"panel":"C","group":"6/8 UR BM","month":4,"grfs":0.572},{"panel":"C","group":"6/8 UR BM","month":4.7,"grfs":0.54},{"panel":"C","group":"6/8 UR BM","month":5.7,"grfs":0.508},{"panel":"C","group":"6/8 UR BM","month":6.7,"grfs":0.476},{"panel":"C","group":"6/8 UR BM","month":7.7,"grfs":0.451},{"panel":"C","group":"6/8 UR BM","month":8.7,"grfs":0.432},{"panel":"C","group":"6/8 UR BM","month":10.7,"grfs":0.419},{"panel":"C","group":"6/8 UR BM","month":12.6,"grfs":0.393},{"panel":"C","group":"6/8 UR BM","month":14.6,"grfs":0.374},{"panel":"C","group":"6/8 UR BM","month":16.6,"grfs":0.361},{"panel":"C","group":"6/8 UR BM","month":18.5,"grfs":0.355},{"panel":"C","group":"6/8 UR BM","month":20.5,"grfs":0.342},{"panel":"C","group":"6/8 UR BM","month":21.9,"grfs":0.338},{"panel":"C","group":"6/8 UR BM","month":22,"grfs":0.328},{"panel":"C","group":"6/8 UR BM","month":24,"grfs":0.326},
{"panel":"C","group":"CB","month":0,"grfs":1},{"panel":"C","group":"CB","month":0.4,"grfs":0.96},{"panel":"C","group":"CB","month":1,"grfs":0.855},{"panel":"C","group":"CB","month":1.8,"grfs":0.83},{"panel":"C","group":"CB","month":2.8,"grfs":0.775},{"panel":"C","group":"CB","month":3.75,"grfs":0.695},{"panel":"C","group":"CB","month":4.7,"grfs":0.637},{"panel":"C","group":"CB","month":5.7,"grfs":0.605},{"panel":"C","group":"CB","month":6.7,"grfs":0.578},{"panel":"C","group":"CB","month":7.7,"grfs":0.556},{"panel":"C","group":"CB","month":8.7,"grfs":0.54},{"panel":"C","group":"CB","month":10.7,"grfs":0.515},{"panel":"C","group":"CB","month":12.6,"grfs":0.492},{"panel":"C","group":"CB","month":14.6,"grfs":0.476},{"panel":"C","group":"CB","month":16.6,"grfs":0.466},{"panel":"C","group":"CB","month":18.5,"grfs":0.455},{"panel":"C","group":"CB","month":20.5,"grfs":0.447},{"panel":"C","group":"CB","month":22.5,"grfs":0.44},{"panel":"C","group":"CB","month":24,"grfs":0.436},
{"panel":"D","group":"6/6 SIB BM","month":0,"grfs":1},{"panel":"D","group":"6/6 SIB BM","month":0.4,"grfs":0.98},{"panel":"D","group":"6/6 SIB BM","month":0.85,"grfs":0.932},{"panel":"D","group":"6/6 SIB BM","month":1.8,"grfs":0.845},{"panel":"D","group":"6/6 SIB BM","month":2.8,"grfs":0.75},{"panel":"D","group":"6/6 SIB BM","month":3.8,"grfs":0.615},{"panel":"D","group":"6/6 SIB BM","month":4.8,"grfs":0.542},{"panel":"D","group":"6/6 SIB BM","month":5.8,"grfs":0.49},{"panel":"D","group":"6/6 SIB BM","month":6.8,"grfs":0.458},{"panel":"D","group":"6/6 SIB BM","month":7.8,"grfs":0.426},{"panel":"D","group":"6/6 SIB BM","month":8.7,"grfs":0.4},{"panel":"D","group":"6/6 SIB BM","month":9.7,"grfs":0.388},{"panel":"D","group":"6/6 SIB BM","month":11.7,"grfs":0.371},{"panel":"D","group":"6/6 SIB BM","month":13.7,"grfs":0.356},{"panel":"D","group":"6/6 SIB BM","month":15.7,"grfs":0.34},{"panel":"D","group":"6/6 SIB BM","month":17.6,"grfs":0.328},{"panel":"D","group":"6/6 SIB BM","month":20.6,"grfs":0.318},{"panel":"D","group":"6/6 SIB BM","month":24,"grfs":0.31},
{"panel":"D","group":"6/6 SIB PB","month":0,"grfs":1},{"panel":"D","group":"6/6 SIB PB","month":0.4,"grfs":0.96},{"panel":"D","group":"6/6 SIB PB","month":0.85,"grfs":0.88},{"panel":"D","group":"6/6 SIB PB","month":1.8,"grfs":0.766},{"panel":"D","group":"6/6 SIB PB","month":2.8,"grfs":0.663},{"panel":"D","group":"6/6 SIB PB","month":3.8,"grfs":0.535},{"panel":"D","group":"6/6 SIB PB","month":4.8,"grfs":0.458},{"panel":"D","group":"6/6 SIB PB","month":5.8,"grfs":0.394},{"panel":"D","group":"6/6 SIB PB","month":6.8,"grfs":0.345},{"panel":"D","group":"6/6 SIB PB","month":7.8,"grfs":0.318},{"panel":"D","group":"6/6 SIB PB","month":8.7,"grfs":0.305},{"panel":"D","group":"6/6 SIB PB","month":10.7,"grfs":0.286},{"panel":"D","group":"6/6 SIB PB","month":12.7,"grfs":0.273},{"panel":"D","group":"6/6 SIB PB","month":14.7,"grfs":0.26},{"panel":"D","group":"6/6 SIB PB","month":16.7,"grfs":0.254},{"panel":"D","group":"6/6 SIB PB","month":18.6,"grfs":0.247},{"panel":"D","group":"6/6 SIB PB","month":20.6,"grfs":0.241},{"panel":"D","group":"6/6 SIB PB","month":22.5,"grfs":0.232},{"panel":"D","group":"6/6 SIB PB","month":24,"grfs":0.225},
{"panel":"D","group":"5/6 SIB BM","month":0,"grfs":1},{"panel":"D","group":"5/6 SIB BM","month":0.4,"grfs":0.95},{"panel":"D","group":"5/6 SIB BM","month":0.85,"grfs":0.87},{"panel":"D","group":"5/6 SIB BM","month":1.8,"grfs":0.74},{"panel":"D","group":"5/6 SIB BM","month":2.8,"grfs":0.65},{"panel":"D","group":"5/6 SIB BM","month":3.8,"grfs":0.548},{"panel":"D","group":"5/6 SIB BM","month":4.8,"grfs":0.446},{"panel":"D","group":"5/6 SIB BM","month":5.8,"grfs":0.382},{"panel":"D","group":"5/6 SIB BM","month":6.8,"grfs":0.343},{"panel":"D","group":"5/6 SIB BM","month":7.8,"grfs":0.318},{"panel":"D","group":"5/6 SIB BM","month":8.7,"grfs":0.298},{"panel":"D","group":"5/6 SIB BM","month":10.7,"grfs":0.273},{"panel":"D","group":"5/6 SIB BM","month":12.7,"grfs":0.254},{"panel":"D","group":"5/6 SIB BM","month":14.7,"grfs":0.247},{"panel":"D","group":"5/6 SIB BM","month":16.7,"grfs":0.241},{"panel":"D","group":"5/6 SIB BM","month":18.6,"grfs":0.24},{"panel":"D","group":"5/6 SIB BM","month":20.6,"grfs":0.234},{"panel":"D","group":"5/6 SIB BM","month":24,"grfs":0.234},
{"panel":"D","group":"5/6 SIB PB","month":0,"grfs":1},{"panel":"D","group":"5/6 SIB PB","month":0.4,"grfs":0.95},{"panel":"D","group":"5/6 SIB PB","month":0.85,"grfs":0.842},{"panel":"D","group":"5/6 SIB PB","month":1.8,"grfs":0.714},{"panel":"D","group":"5/6 SIB PB","month":2.8,"grfs":0.6},{"panel":"D","group":"5/6 SIB PB","month":3.8,"grfs":0.471},{"panel":"D","group":"5/6 SIB PB","month":4.8,"grfs":0.4},{"panel":"D","group":"5/6 SIB PB","month":5.8,"grfs":0.343},{"panel":"D","group":"5/6 SIB PB","month":6.8,"grfs":0.311},{"panel":"D","group":"5/6 SIB PB","month":7.8,"grfs":0.292},{"panel":"D","group":"5/6 SIB PB","month":8.7,"grfs":0.273},{"panel":"D","group":"5/6 SIB PB","month":10.7,"grfs":0.247},{"panel":"D","group":"5/6 SIB PB","month":12.7,"grfs":0.228},{"panel":"D","group":"5/6 SIB PB","month":14.7,"grfs":0.209},{"panel":"D","group":"5/6 SIB PB","month":16.7,"grfs":0.196},{"panel":"D","group":"5/6 SIB PB","month":18.6,"grfs":0.19},{"panel":"D","group":"5/6 SIB PB","month":20.6,"grfs":0.183},{"panel":"D","group":"5/6 SIB PB","month":22.6,"grfs":0.177},{"panel":"D","group":"5/6 SIB PB","month":24,"grfs":0.167},
{"panel":"D","group":"8/8 UR BM","month":0,"grfs":1},{"panel":"D","group":"8/8 UR BM","month":0.4,"grfs":0.97},{"panel":"D","group":"8/8 UR BM","month":0.85,"grfs":0.906},{"panel":"D","group":"8/8 UR BM","month":1.8,"grfs":0.805},{"panel":"D","group":"8/8 UR BM","month":2.8,"grfs":0.702},{"panel":"D","group":"8/8 UR BM","month":3.8,"grfs":0.586},{"panel":"D","group":"8/8 UR BM","month":4.8,"grfs":0.522},{"panel":"D","group":"8/8 UR BM","month":5.8,"grfs":0.471},{"panel":"D","group":"8/8 UR BM","month":6.8,"grfs":0.433},{"panel":"D","group":"8/8 UR BM","month":7.8,"grfs":0.407},{"panel":"D","group":"8/8 UR BM","month":8.7,"grfs":0.382},{"panel":"D","group":"8/8 UR BM","month":10.7,"grfs":0.356},{"panel":"D","group":"8/8 UR BM","month":12.7,"grfs":0.33},{"panel":"D","group":"8/8 UR BM","month":14.7,"grfs":0.311},{"panel":"D","group":"8/8 UR BM","month":16.7,"grfs":0.298},{"panel":"D","group":"8/8 UR BM","month":18.6,"grfs":0.289},{"panel":"D","group":"8/8 UR BM","month":20.6,"grfs":0.282},{"panel":"D","group":"8/8 UR BM","month":24,"grfs":0.276},
{"panel":"D","group":"7/8 UR BM","month":0,"grfs":1},{"panel":"D","group":"7/8 UR BM","month":0.4,"grfs":0.95},{"panel":"D","group":"7/8 UR BM","month":0.85,"grfs":0.855},{"panel":"D","group":"7/8 UR BM","month":1.8,"grfs":0.727},{"panel":"D","group":"7/8 UR BM","month":2.8,"grfs":0.612},{"panel":"D","group":"7/8 UR BM","month":3.8,"grfs":0.497},{"panel":"D","group":"7/8 UR BM","month":4.8,"grfs":0.42},{"panel":"D","group":"7/8 UR BM","month":5.8,"grfs":0.356},{"panel":"D","group":"7/8 UR BM","month":6.8,"grfs":0.325},{"panel":"D","group":"7/8 UR BM","month":7.8,"grfs":0.311},{"panel":"D","group":"7/8 UR BM","month":8.7,"grfs":0.298},{"panel":"D","group":"7/8 UR BM","month":10.7,"grfs":0.279},{"panel":"D","group":"7/8 UR BM","month":12.7,"grfs":0.266},{"panel":"D","group":"7/8 UR BM","month":14.7,"grfs":0.254},{"panel":"D","group":"7/8 UR BM","month":16.7,"grfs":0.241},{"panel":"D","group":"7/8 UR BM","month":18.6,"grfs":0.23},{"panel":"D","group":"7/8 UR BM","month":20.6,"grfs":0.222},{"panel":"D","group":"7/8 UR BM","month":24,"grfs":0.209},
{"panel":"D","group":"6/8 UR BM","month":0,"grfs":1},{"panel":"D","group":"6/8 UR BM","month":0.4,"grfs":0.94},{"panel":"D","group":"6/8 UR BM","month":0.85,"grfs":0.83},{"panel":"D","group":"6/8 UR BM","month":1.8,"grfs":0.702},{"panel":"D","group":"6/8 UR BM","month":2.8,"grfs":0.561},{"panel":"D","group":"6/8 UR BM","month":3.8,"grfs":0.446},{"panel":"D","group":"6/8 UR BM","month":4.8,"grfs":0.382},{"panel":"D","group":"6/8 UR BM","month":5.8,"grfs":0.33},{"panel":"D","group":"6/8 UR BM","month":6.8,"grfs":0.298},{"panel":"D","group":"6/8 UR BM","month":7.8,"grfs":0.268},{"panel":"D","group":"6/8 UR BM","month":8.7,"grfs":0.254},{"panel":"D","group":"6/8 UR BM","month":10.7,"grfs":0.234},{"panel":"D","group":"6/8 UR BM","month":12.7,"grfs":0.222},{"panel":"D","group":"6/8 UR BM","month":14.7,"grfs":0.215},{"panel":"D","group":"6/8 UR BM","month":16.7,"grfs":0.206},{"panel":"D","group":"6/8 UR BM","month":18.6,"grfs":0.202},{"panel":"D","group":"6/8 UR BM","month":20.6,"grfs":0.198},{"panel":"D","group":"6/8 UR BM","month":24,"grfs":0.192},
{"panel":"D","group":"CB","month":0,"grfs":1},{"panel":"D","group":"CB","month":0.4,"grfs":0.95},{"panel":"D","group":"CB","month":0.85,"grfs":0.87},{"panel":"D","group":"CB","month":1.8,"grfs":0.74},{"panel":"D","group":"CB","month":2.8,"grfs":0.625},{"panel":"D","group":"CB","month":3.8,"grfs":0.51},{"panel":"D","group":"CB","month":4.2,"grfs":0.46},{"panel":"D","group":"CB","month":4.8,"grfs":0.44},{"panel":"D","group":"CB","month":5.8,"grfs":0.39},{"panel":"D","group":"CB","month":6.8,"grfs":0.356},{"panel":"D","group":"CB","month":7.8,"grfs":0.33},{"panel":"D","group":"CB","month":8.7,"grfs":0.311},{"panel":"D","group":"CB","month":10.7,"grfs":0.292},{"panel":"D","group":"CB","month":12.7,"grfs":0.273},{"panel":"D","group":"CB","month":14.7,"grfs":0.26},{"panel":"D","group":"CB","month":16.7,"grfs":0.252},{"panel":"D","group":"CB","month":18.6,"grfs":0.246},{"panel":"D","group":"CB","month":20.6,"grfs":0.242},{"panel":"D","group":"CB","month":24,"grfs":0.238}
]},
"concat":[
{"width":418,"height":286,
 "layer":[
  {"data":{"name":"curves"},"transform":[{"filter":"datum.panel === 'A'"}],
   "mark":{"type":"line","strokeWidth":2.8},
   "encoding":{
    "x":{"field":"month","type":"quantitative","scale":{"domain":[-0.45,24.3],"nice":false,"zero":false},"axis":{"values":[0,3,6,9,12,15,18,21,24],"title":null}},
    "y":{"field":"grfs","type":"quantitative","scale":{"domain":[-0.048,1.048],"nice":false,"zero":false},"axis":{"values":[0,0.2,0.4,0.6,0.8,1],"format":".1f","title":"Adjusted GRFS"}},
    "color":{"field":"group","type":"nominal","scale":{"domain":["6/6 SIB BM","6/6 SIB PB","5/6 SIB BM","5/6 SIB PB","8/8 UR BM","7/8 UR BM","6/8 UR BM","CB"],"range":["#000000","#000000","#2b6cb8","#2b6cb8","#ee1c25","#6a2d8f","#3db54a","#f7941d"]},"legend":{"title":null,"orient":"none","legendX":-204,"legendY":246}},
    "strokeDash":{"field":"group","type":"nominal","scale":{"domain":["6/6 SIB BM","6/6 SIB PB","5/6 SIB BM","5/6 SIB PB","8/8 UR BM","7/8 UR BM","6/8 UR BM","CB"],"range":[[1,0],[9,4],[1,0],[9,4],[1,0],[1,0],[1,0],[1,0]]},"legend":{"title":null,"orient":"none","legendX":-204,"legendY":246}}
   }},
  {"data":{"name":"panels"},"transform":[{"filter":"datum.panel === 'A'"}],
   "mark":{"type":"text","font":"DejaVu Sans Condensed","fontSize":23,"fontWeight":"bold","color":"#1b6e8d"},
   "encoding":{"x":{"datum":-2.1},"y":{"datum":1.125},"text":{"field":"letter"}}},
  {"data":{"name":"panels"},"transform":[{"filter":"datum.panel === 'A'"}],
   "mark":{"type":"text","font":"DejaVu Sans Condensed","fontSize":19,"color":"#222"},
   "encoding":{"x":{"datum":11.7},"y":{"datum":1.12},"text":{"field":"header"}}},
  {"data":{"name":"panels"},"transform":[{"filter":"datum.panel === 'A'"}],
   "mark":{"type":"text","font":"Liberation Sans","fontSize":16,"fontWeight":"bold","color":"#2a3a64"},
   "encoding":{"x":{"datum":-6.7},"y":{"datum":0.488},"text":{"field":"age"}}}
 ]},
{"width":418,"height":286,
 "layer":[
  {"data":{"name":"curves"},"transform":[{"filter":"datum.panel === 'B'"}],
   "mark":{"type":"line","strokeWidth":2.8},
   "encoding":{
    "x":{"field":"month","type":"quantitative","scale":{"domain":[-0.45,24.3],"nice":false,"zero":false},"axis":{"values":[0,3,6,9,12,15,18,21,24],"title":null}},
    "y":{"field":"grfs","type":"quantitative","scale":{"domain":[-0.048,1.048],"nice":false,"zero":false},"axis":{"values":[0,0.2,0.4,0.6,0.8,1],"format":".1f","title":null}},
    "color":{"field":"group","type":"nominal","scale":{"domain":["6/6 SIB BM","6/6 SIB PB","5/6 SIB BM","5/6 SIB PB","8/8 UR BM","7/8 UR BM","6/8 UR BM","CB"],"range":["#000000","#000000","#2b6cb8","#2b6cb8","#ee1c25","#6a2d8f","#3db54a","#f7941d"]},"legend":{"title":null,"orient":"none","legendX":-204,"legendY":246}},
    "strokeDash":{"field":"group","type":"nominal","scale":{"domain":["6/6 SIB BM","6/6 SIB PB","5/6 SIB BM","5/6 SIB PB","8/8 UR BM","7/8 UR BM","6/8 UR BM","CB"],"range":[[1,0],[9,4],[1,0],[9,4],[1,0],[1,0],[1,0],[1,0]]},"legend":{"title":null,"orient":"none","legendX":-204,"legendY":246}}
   }},
  {"data":{"name":"panels"},"transform":[{"filter":"datum.panel === 'B'"}],
   "mark":{"type":"text","font":"DejaVu Sans Condensed","fontSize":23,"fontWeight":"bold","color":"#1b6e8d"},
   "encoding":{"x":{"datum":-2.1},"y":{"datum":1.125},"text":{"field":"letter"}}},
  {"data":{"name":"panels"},"transform":[{"filter":"datum.panel === 'B'"}],
   "mark":{"type":"text","font":"DejaVu Sans Condensed","fontSize":19,"color":"#222"},
   "encoding":{"x":{"datum":11.9},"y":{"datum":1.12},"text":{"field":"header"}}}
 ]},
{"width":418,"height":286,
 "layer":[
  {"data":{"name":"curves"},"transform":[{"filter":"datum.panel === 'C'"}],
   "mark":{"type":"line","strokeWidth":2.8},
   "encoding":{
    "x":{"field":"month","type":"quantitative","scale":{"domain":[-0.45,24.3],"nice":false,"zero":false},"axis":{"values":[0,3,6,9,12,15,18,21,24],"title":"Months after transplantation","titleX":218}},
    "y":{"field":"grfs","type":"quantitative","scale":{"domain":[-0.048,1.048],"nice":false,"zero":false},"axis":{"values":[0,0.2,0.4,0.6,0.8,1],"format":".1f","title":"Adjusted GRFS"}},
    "color":{"field":"group","type":"nominal","scale":{"domain":["6/6 SIB BM","6/6 SIB PB","5/6 SIB BM","5/6 SIB PB","8/8 UR BM","7/8 UR BM","6/8 UR BM","CB"],"range":["#000000","#000000","#2b6cb8","#2b6cb8","#ee1c25","#6a2d8f","#3db54a","#f7941d"]},"legend":{"title":null,"orient":"none","legendX":-204,"legendY":246}},
    "strokeDash":{"field":"group","type":"nominal","scale":{"domain":["6/6 SIB BM","6/6 SIB PB","5/6 SIB BM","5/6 SIB PB","8/8 UR BM","7/8 UR BM","6/8 UR BM","CB"],"range":[[1,0],[9,4],[1,0],[9,4],[1,0],[1,0],[1,0],[1,0]]},"legend":{"title":null,"orient":"none","legendX":-204,"legendY":246}}
   }},
  {"data":{"name":"panels"},"transform":[{"filter":"datum.panel === 'C'"}],
   "mark":{"type":"text","font":"DejaVu Sans Condensed","fontSize":23,"fontWeight":"bold","color":"#1b6e8d"},
   "encoding":{"x":{"datum":-2.1},"y":{"datum":1.085},"text":{"field":"letter"}}},
  {"data":{"name":"panels"},"transform":[{"filter":"datum.panel === 'C'"}],
   "mark":{"type":"text","font":"Liberation Sans","fontSize":16,"fontWeight":"bold","color":"#2a3a64"},
   "encoding":{"x":{"datum":-6.7},"y":{"datum":0.44},"text":{"field":"age"}}}
 ]},
{"width":418,"height":286,
 "layer":[
  {"data":{"name":"curves"},"transform":[{"filter":"datum.panel === 'D'"}],
   "mark":{"type":"line","strokeWidth":2.8},
   "encoding":{
    "x":{"field":"month","type":"quantitative","scale":{"domain":[-0.45,24.3],"nice":false,"zero":false},"axis":{"values":[0,3,6,9,12,15,18,21,24],"title":"Months after transplantation","titleX":218}},
    "y":{"field":"grfs","type":"quantitative","scale":{"domain":[-0.048,1.048],"nice":false,"zero":false},"axis":{"values":[0,0.2,0.4,0.6,0.8,1],"format":".1f","title":null}},
    "color":{"field":"group","type":"nominal","scale":{"domain":["6/6 SIB BM","6/6 SIB PB","5/6 SIB BM","5/6 SIB PB","8/8 UR BM","7/8 UR BM","6/8 UR BM","CB"],"range":["#000000","#000000","#2b6cb8","#2b6cb8","#ee1c25","#6a2d8f","#3db54a","#f7941d"]},"legend":{"title":null,"orient":"none","legendX":-204,"legendY":246}},
    "strokeDash":{"field":"group","type":"nominal","scale":{"domain":["6/6 SIB BM","6/6 SIB PB","5/6 SIB BM","5/6 SIB PB","8/8 UR BM","7/8 UR BM","6/8 UR BM","CB"],"range":[[1,0],[9,4],[1,0],[9,4],[1,0],[1,0],[1,0],[1,0]]},"legend":{"title":null,"orient":"none","legendX":-204,"legendY":246}}
   }},
  {"data":{"name":"panels"},"transform":[{"filter":"datum.panel === 'D'"}],
   "mark":{"type":"text","font":"DejaVu Sans Condensed","fontSize":23,"fontWeight":"bold","color":"#1b6e8d"},
   "encoding":{"x":{"datum":-2.1},"y":{"datum":1.085},"text":{"field":"letter"}}}
 ]}
],
"config":{
 "view":{"stroke":"#000","strokeWidth":3},
 "axis":{"domain":false,"grid":false,"tickColor":"#111","tickWidth":1.6,"labelFont":"Liberation Sans","labelFontSize":14,"labelColor":"#111","titleFont":"DejaVu Sans Condensed","titleFontSize":19,"titleFontWeight":"normal","titleColor":"#222"},
 "axisX":{"tickSize":6,"labelPadding":-2,"titlePadding":12,"labelFlush":false},
 "axisY":{"tickSize":7,"labelPadding":3,"titlePadding":12},
 "legend":{"labelFont":"Liberation Sans","labelFontSize":18.5,"labelColor":"#000","symbolType":"stroke","symbolSize":1225,"symbolStrokeWidth":3.5,"clipHeight":20,"rowPadding":0,"labelOffset":5,"padding":0},
 "line":{"strokeCap":"butt"}
}
}
